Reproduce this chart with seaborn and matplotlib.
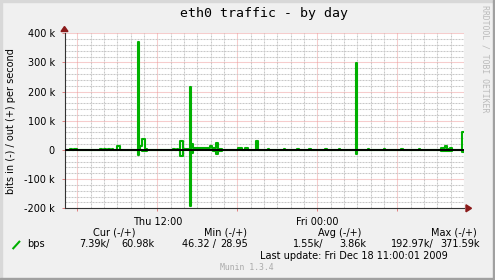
import matplotlib
matplotlib.use("Agg")
import matplotlib.pyplot as plt
import seaborn as sns
import pandas as pd
from matplotlib.ticker import MultipleLocator, FuncFormatter
from matplotlib.patches import Rectangle, Polygon
from matplotlib.lines import Line2D

plt.rcParams["lines.scale_dashes"] = False
plt.rcParams["font.family"] = ["DejaVu Sans"]

# ---------------- data (hours since Thu 00:00, values in kbit/s) ----------------
out_t = [5.04, 5.45, 5.60, 5.75, 5.98, 7.70, 7.85, 8.00, 8.15, 8.30, 8.45, 8.58, 8.68,
         8.98, 9.20, 10.55, 10.63, 10.72, 10.85, 11.10, 11.25, 13.18, 13.30, 13.45,
         13.58, 13.70, 13.95, 14.42, 14.50, 14.55, 14.68, 15.95, 16.10, 16.40, 16.55,
         16.85, 18.05, 18.35, 18.58, 18.80, 19.42, 19.58, 20.30, 20.40, 21.50, 21.60,
         22.50, 22.60, 23.40, 23.50, 24.60, 24.70, 25.60, 25.70, 26.92, 27.00, 27.80,
         27.90, 29.00, 29.10, 30.30, 30.40, 31.60, 31.70, 33.28, 33.55, 33.75, 33.95,
         34.10, 34.85, 35.00]
out_v = [0, 3, 0, 3, 0, 3, 0, 3, 0, 3, 0, 3, 0,
         12, 0, 371.59, 0, 13, 36, 5, 0, 3, 0, 3,
         0, 31, 3, 215, 3, 19, 6, 13, 6, 24, 3,
         0, 7, 0, 7, 0, 32, 0, 3, 0, 3, 0,
         3, 0, 3, 0, 3, 0, 3, 0, 297, 0, 3,
         0, 3, 0, 3, 0, 3, 0, 7, 15, 3, 7,
         0, 60.98, 60.98]

in_t = [5.04, 10.55, 10.63, 10.85, 11.20, 13.70, 13.95, 14.42, 14.50, 14.55, 14.68,
        16.20, 16.40, 16.55, 16.85, 26.92, 27.00, 33.28, 34.10, 34.85, 35.00]
in_v = [0, 16, 0, 5, 0, 21, 0, 192.97, 0, 10, 0,
        5, 13, 5, 0, 13, 0, 5, 0, 7.39, 7.39]

xtick_labels = {12: "Thu 12:00", 24: "Fri 00:00"}
legend_headers = ["Cur (-/+)", "Min (-/+)", "Avg (-/+)", "Max (-/+)"]
legend_in = ["7.39k/", "46.32 /", "1.55k/", "192.97k/"]
legend_out = ["60.98k", "28.95", "3.86k", "371.59k"]

# ---------------- figure ----------------
W, H = 495, 280
fig = plt.figure(figsize=(W / 100, H / 100), dpi=100, facecolor="#F0F0F0")


def fx(x):
    return x / W


def fy(y):
    return 1 - y / H


# 3D border
fig.patches.append(Rectangle((0, 0), fx(2), 1, transform=fig.transFigure, color="#D8D8D8", zorder=0))
fig.patches.append(Rectangle((0, fy(2)), 1, 2 / H, transform=fig.transFigure, color="#D8D8D8", zorder=0))
fig.patches.append(Rectangle((fx(492.5), 0), fx(2.5), 1, transform=fig.transFigure, color="#A0A0A0", zorder=0))
fig.patches.append(Rectangle((0, 0), 1, 2.5 / H, transform=fig.transFigure, color="#A0A0A0", zorder=0))

ax = fig.add_axes([fx(64.5), fy(208.3), 400 / W, 175 / H])
ax.set_facecolor("white")

green = "#00B000"
df_out = pd.DataFrame({"t": out_t, "v": out_v})
df_in = pd.DataFrame({"t": in_t, "v": [-v for v in in_v]})
sns.lineplot(data=df_out, x="t", y="v", ax=ax, color=green, lw=1.5,
             drawstyle="steps-post", estimator=None, zorder=2)
sns.lineplot(data=df_in, x="t", y="v", ax=ax, color=green, lw=1.5,
             drawstyle="steps-post", estimator=None, zorder=2)
ax.axhline(0, color="black", lw=1.4, zorder=3)

ax.set_xlim(5.04, 35.04)
ax.set_ylim(-200, 400)
ax.set_xlabel("")
ax.set_ylabel("")

ax.xaxis.set_major_locator(MultipleLocator(6))
ax.xaxis.set_minor_locator(MultipleLocator(1))
ax.yaxis.set_major_locator(MultipleLocator(100))
ax.yaxis.set_minor_locator(MultipleLocator(20))
ax.xaxis.set_major_formatter(FuncFormatter(lambda v, p: xtick_labels.get(int(round(v)), "")))
ax.yaxis.set_major_formatter(FuncFormatter(lambda v, p: "0" if abs(v) < 1e-9 else "%d k" % int(round(v))))

ax.grid(which="minor", color="#C8C8C8", lw=0.75, linestyle=(0, (1.44, 0.72)), zorder=1)
ax.grid(which="major", color="#EE9A9A", lw=0.75, linestyle=(0, (0.72, 0.72)), zorder=1)
ax.set_axisbelow(True)

ax.tick_params(which="major", length=2, width=0.7, color="#E08080", labelsize=7,
               labelcolor="black", pad=4)
ax.tick_params(axis="y", which="major", pad=5)
ax.tick_params(which="minor", length=0)

for s in ["top", "right"]:
    ax.spines[s].set_visible(False)
for s in ["left", "bottom"]:
    ax.spines[s].set_color("#333333")
    ax.spines[s].set_linewidth(0.8)


def pts(lst):
    return [(fx(a), fy(b)) for a, b in lst]


arrow_c = "#8B1A1A"
fig.patches.append(Polygon(pts([(61, 31.5), (68, 31.5), (64.5, 26.5)]), closed=True,
                           transform=fig.transFigure, color=arrow_c, zorder=5))
fig.patches.append(Polygon(pts([(466, 204.8), (466, 211.8), (471.5, 208.3)]), closed=True,
                           transform=fig.transFigure, color=arrow_c, zorder=5))

# texts
fig.text(fx(264.5), fy(14), "eth0 traffic - by day", family="DejaVu Sans Mono",
         fontsize=9.5, ha="center", va="center")
fig.text(fx(11), fy(121), "bits in (-) / out (+) per second", fontsize=7,
         rotation=90, ha="center", va="center")
fig.text(fx(485.5), fy(5), "RRDTOOL / TOBI OETIKER", family="DejaVu Sans Mono",
         fontsize=5.9, rotation=270, ha="center", va="top", color="#BBBBBB")

header_cx = [114.7, 226, 340, 453.7]
for cx, h in zip(header_cx, legend_headers):
    fig.text(fx(cx), fy(232.7), h, fontsize=7, ha="center", va="center")

fig.lines.append(Line2D([fx(13.3), fx(19.3)], [fy(248.3), fy(241.7)],
                        transform=fig.transFigure, color=green, lw=1.5))
fig.text(fx(26.7), fy(244), "bps", fontsize=7, ha="left", va="center")

in_left = [79, 181.7, 292.7, 390.7]
out_right = [154, 248, 366, 480]
for xl, s in zip(in_left, legend_in):
    fig.text(fx(xl), fy(244), s, fontsize=7, ha="left", va="center")
for xr, s in zip(out_right, legend_out):
    fig.text(fx(xr), fy(244), s, fontsize=7, ha="right", va="center")

fig.text(fx(260), fy(255.7), "Last update: Fri Dec 18 11:00:01 2009", fontsize=7,
         ha="left", va="center")
fig.text(fx(247), fy(268), "Munin 1.3.4", family="DejaVu Sans Mono", fontsize=5.9,
         ha="center", va="center", color="#AAAAAA")

fig.savefig("out.png", dpi=100, facecolor=fig.get_facecolor())
